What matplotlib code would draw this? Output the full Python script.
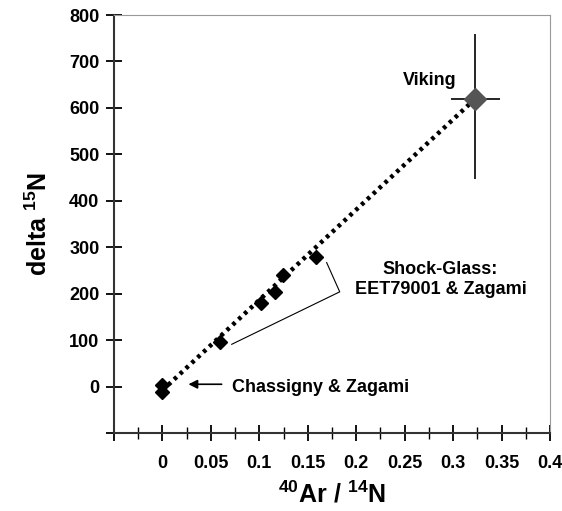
import numpy as np
from matplotlib import pyplot as plt

plt.rcParams['font.family'] = ['Liberation Sans', 'DejaVu Sans']
plt.rcParams['font.weight'] = 'bold'
plt.rcParams['mathtext.fontset'] = 'custom'
plt.rcParams['mathtext.rm'] = 'Liberation Sans:bold'
plt.rcParams['mathtext.bf'] = 'Liberation Sans:bold'
plt.rcParams['mathtext.default'] = 'rm'

# meteorite samples (shock glass + Chassigny/Zagami)
ar_n = [0.0, 0.0, 0.0595, 0.1015, 0.116, 0.124, 0.159]
d15n = [3, -12, 95, 179, 204, 240, 280]

# Viking atmosphere measurement
viking_x = 0.323
viking_y = 620
viking_xerr = 0.025
viking_yerr = [[172], [140]]

# mixing line
fit_x = [0.0, 0.323]
fit_y = [-8, 620]

fig = plt.figure(figsize=(5.62, 5.11), dpi=100)
ax = fig.add_axes([0.2028, 0.1526, 0.7758, 0.818])

ax.plot(fit_x, fit_y, color='black', linestyle=(0, (0.8, 1.0)), linewidth=3.2, zorder=2)
ax.plot(ar_n, d15n, linestyle='none', marker='D', markersize=7.5, color='black', zorder=3)
ax.errorbar([viking_x], [viking_y], xerr=viking_xerr, yerr=viking_yerr, fmt='D',
            markersize=11, color='#555555', ecolor='black', elinewidth=1.2, capsize=0, zorder=3)

ax.text(0.248, 660, 'Viking', fontsize=13, fontweight='bold', va='center', ha='left')
ax.text(0.287, 230, 'Shock-Glass:\nEET79001 & Zagami', fontsize=13, fontweight='bold',
        va='center', ha='center', linespacing=1.2)
ax.text(0.072, -3, 'Chassigny & Zagami', fontsize=13, fontweight='bold', va='center', ha='left')
ax.annotate('', xy=(0.024, 5), xytext=(0.064, 5),
            arrowprops=dict(arrowstyle='-|>', color='black', lw=1.2, mutation_scale=13))
ax.plot([0.1695, 0.183, 0.0715], [267, 204, 91], color='black', linewidth=0.8)

ax.set_xlim(-0.05, 0.4)
ax.set_ylim(-100, 800)

xt = np.arange(-0.05, 0.4001, 0.05)
ax.set_xticks(xt)
ax.set_xticklabels([''] + ['0', '0.05', '0.1', '0.15', '0.2', '0.25', '0.3', '0.35', '0.4'])
ax.set_xticks(np.arange(-0.025, 0.4, 0.05), minor=True)
yt = np.arange(-100, 801, 100)
ax.set_yticks(yt)
ax.set_yticklabels([''] + [str(v) for v in yt[1:]])

ax.tick_params(axis='both', which='major', direction='inout', length=11, width=1.3,
               labelsize=13, pad=5)
ax.tick_params(axis='x', which='minor', direction='inout', length=8, width=1.0)
ax.tick_params(axis='x', which='major', pad=10)
for lab in ax.get_xticklabels() + ax.get_yticklabels():
    lab.set_fontweight('bold')

for s in ['left', 'bottom']:
    ax.spines[s].set_linewidth(1.5)
    ax.spines[s].set_color('#333333')
for s in ['top', 'right']:
    ax.spines[s].set_linewidth(0.8)
    ax.spines[s].set_color('#999999')

ax.set_xlabel('$^{40}$Ar / $^{14}$N', fontsize=18, fontweight='bold', labelpad=7)
ax.set_ylabel('delta $^{15}$N', fontsize=18, fontweight='bold', labelpad=12)

fig.savefig('out.png', dpi=100)
